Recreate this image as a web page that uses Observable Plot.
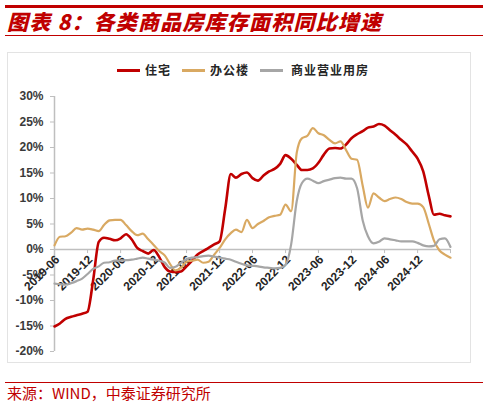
<!DOCTYPE html>
<html>
<head>
<meta charset="utf-8">
<script src="https://cdn.jsdelivr.net/npm/d3@7"></script>
<script src="https://cdn.jsdelivr.net/npm/@observablehq/plot@0.6"></script>
<style>
  html, body { margin: 0; padding: 0; background: #fff; }
  #page { position: relative; width: 488px; height: 406px; overflow: hidden; font-family: "Noto Sans CJK SC", "Liberation Sans", sans-serif; }
  .rule { position: absolute; left: 5px; width: 478px; background: #C00000; }
  #title { position: absolute; left: 7px; top: 8px; font-size: 21px; font-weight: 900; font-style: italic; color: #C00000; letter-spacing: 1.2px; white-space: nowrap; line-height: 27px; }
  #box { position: absolute; left: 7px; top: 52px; width: 464px; height: 311px; border: 1px solid #E3E3E3; box-sizing: border-box; }
  .lg-line { position: absolute; height: 3px; top: 69px; }
  .lg-text { position: absolute; top: 61px; font-size: 12px; font-weight: bold; color: #262626; line-height: 18px; white-space: nowrap; letter-spacing: 1px; }
  #chart { position: absolute; left: 0; top: 80px; }
  #source { position: absolute; left: 7px; top: 382px; font-size: 15px; color: #C00000; line-height: 22px; white-space: nowrap; }
</style>
</head>
<body>
<div id="page">
  <div class="rule" style="top:5px;height:3px"></div>
  <div id="title">图表 8：各类商品房库存面积同比增速</div>
  <div class="rule" style="top:35px;height:1px"></div>
  <div id="box"></div>
  <div id="legend"></div>
  <div id="chart"></div>
  <div class="rule" style="top:382px;height:1px"></div>
  <div id="source">来源：WIND，中泰证券研究所</div>
</div>
<script>
// ---- data ----
const startMonth = "2019-06";
const seriesNames = ["住宅", "办公楼", "商业营业用房"];
const seriesColors = ["#C00000", "#D9A962", "#A6A6A6"];
const tickLabels = ["2019-06","2019-12","2020-06","2020-12","2021-06","2021-12","2022-06","2022-12","2023-06","2023-12","2024-06","2024-12"];
const endTick = "2025-06";
const yTicks = [-20,-15,-10,-5,0,5,10,15,20,25,30];

const residential = [
  -15.1,-14.5,-13.6,-13.2,-12.9,-12.6,-12.2,-6.0,1.5,2.3,
  2.1,1.8,2.2,3.0,2.0,0.3,-0.3,-0.8,-0.1,-1.5,
  -3.5,-4.3,-4.4,-4.3,-3.3,-2.2,-1.0,-0.3,0.3,1.0,
  1.6,8.0,14.8,14.1,14.8,15.1,14.0,13.5,14.5,15.3,
  15.8,16.8,18.5,17.8,16.6,15.6,15.6,15.9,17.0,18.6,
  19.8,19.9,19.8,20.6,21.8,22.6,23.2,23.9,24.1,24.6,
  24.3,23.4,22.5,21.5,20.6,19.2,17.8,15.3,10.5,6.8,
  7.0,6.7,6.5
];
const office = [
  0.8,2.5,2.6,3.3,4.2,3.9,4.1,3.9,3.6,4.8,
  5.7,5.8,5.8,4.8,3.6,2.8,3.1,2.0,0.9,-0.3,
  -1.2,-2.8,-4.1,-3.6,-2.4,-2.2,-2.0,-2.6,-2.4,-1.0,
  0.3,2.0,3.2,3.9,3.4,5.8,4.2,5.0,5.6,6.3,
  6.6,6.8,8.8,7.5,19.0,21.8,22.3,23.8,22.8,22.4,
  21.5,20.8,21.2,19.5,17.8,17.6,12.5,8.2,11.0,10.2,
  9.5,9.9,10.2,9.9,9.3,9.0,9.0,8.3,5.0,1.8,
  -0.2,-1.0,-1.6
];
const commercial = [
  -6.7,-6.8,-6.9,-6.6,-6.2,-5.7,-4.8,-3.8,-3.3,-2.6,
  -2.5,-2.2,-2.2,-2.1,-2.0,-1.8,-1.6,-1.8,-2.0,-2.2,
  -2.6,-3.6,-3.4,-2.6,-1.9,-1.6,-1.5,-1.3,-1.2,-1.4,
  -1.6,-1.8,-2.0,-2.4,-2.8,-3.1,-3.2,-3.3,-3.5,-3.6,
  -3.7,-3.6,-3.0,1.0,9.5,13.0,13.9,13.5,13.0,13.4,
  13.7,14.0,14.1,13.9,13.9,12.0,5.7,2.6,1.2,1.5,
  2.2,2.0,1.8,1.6,1.6,1.6,1.3,0.8,0.6,0.7,
  2.0,2.2,0.5
];

// ---- build ----
const parse = d3.utcParse("%Y-%m");
const start = parse(startMonth);
const months = d3.utcMonth.range(start, d3.utcMonth.offset(start, residential.length));
const seriesValues = [residential, office, commercial];
const rows = [];
seriesValues.forEach((vals, si) => vals.forEach((v, i) => rows.push({date: months[i], value: v, series: seriesNames[si]})));
const tickDates = tickLabels.map(parse).concat([parse(endTick)]);
const labelRows = tickLabels.map(t => ({date: parse(t), label: t}));
const xEnd = parse(endTick);
const axisColor = "#BFBFBF";

const chart = Plot.plot({
  width: 488,
  height: 300,
  marginLeft: 54,
  marginRight: 38,
  marginTop: 16,
  marginBottom: 29,
  style: {fontFamily: "'Liberation Sans', Arial, sans-serif", overflow: "visible", background: "transparent"},
  x: {type: "utc", domain: [start, xEnd], axis: null},
  y: {domain: [-20, 30], axis: null},
  color: {domain: seriesNames, range: seriesColors},
  marks: [
    Plot.ruleX([start], {y1: -20, y2: 30, stroke: axisColor, strokeWidth: 1.5}),
    Plot.axisY({ticks: yTicks, tickFormat: d => d + "%", tickSize: 4, tickPadding: 7, stroke: axisColor, fill: "#3a3a3a", fontWeight: "bold", fontSize: 12, label: null}),
    Plot.ruleY([0], {x1: start, x2: xEnd, stroke: axisColor, strokeWidth: 1.5}),
    Plot.ruleX(tickDates, {x: d => d, y1: 0, y2: -0.8, stroke: axisColor, strokeWidth: 1}),
    Plot.text(labelRows, {x: "date", y: 0, text: "label", rotate: -45, textAnchor: "end", dx: 3, dy: 8, fontWeight: "bold", fontSize: 12, fill: "#262626"}),
    Plot.line(rows, {x: "date", y: "value", z: "series", stroke: "series", strokeWidth: d => d.series === "住宅" ? 2.6 : 2.2, curve: "monotone-x"})
  ]
});
document.getElementById("chart").appendChild(chart);

// legend
const legendPos = [[117, 145], [182, 210], [260, 291]];
const legend = document.getElementById("legend");
seriesNames.forEach((name, i) => {
  const ln = document.createElement("div");
  ln.className = "lg-line";
  ln.style.left = legendPos[i][0] + "px";
  ln.style.width = "23px";
  ln.style.background = seriesColors[i];
  legend.appendChild(ln);
  const tx = document.createElement("div");
  tx.className = "lg-text";
  tx.style.left = legendPos[i][1] + "px";
  tx.textContent = name;
  legend.appendChild(tx);
});
</script>
</body>
</html>
